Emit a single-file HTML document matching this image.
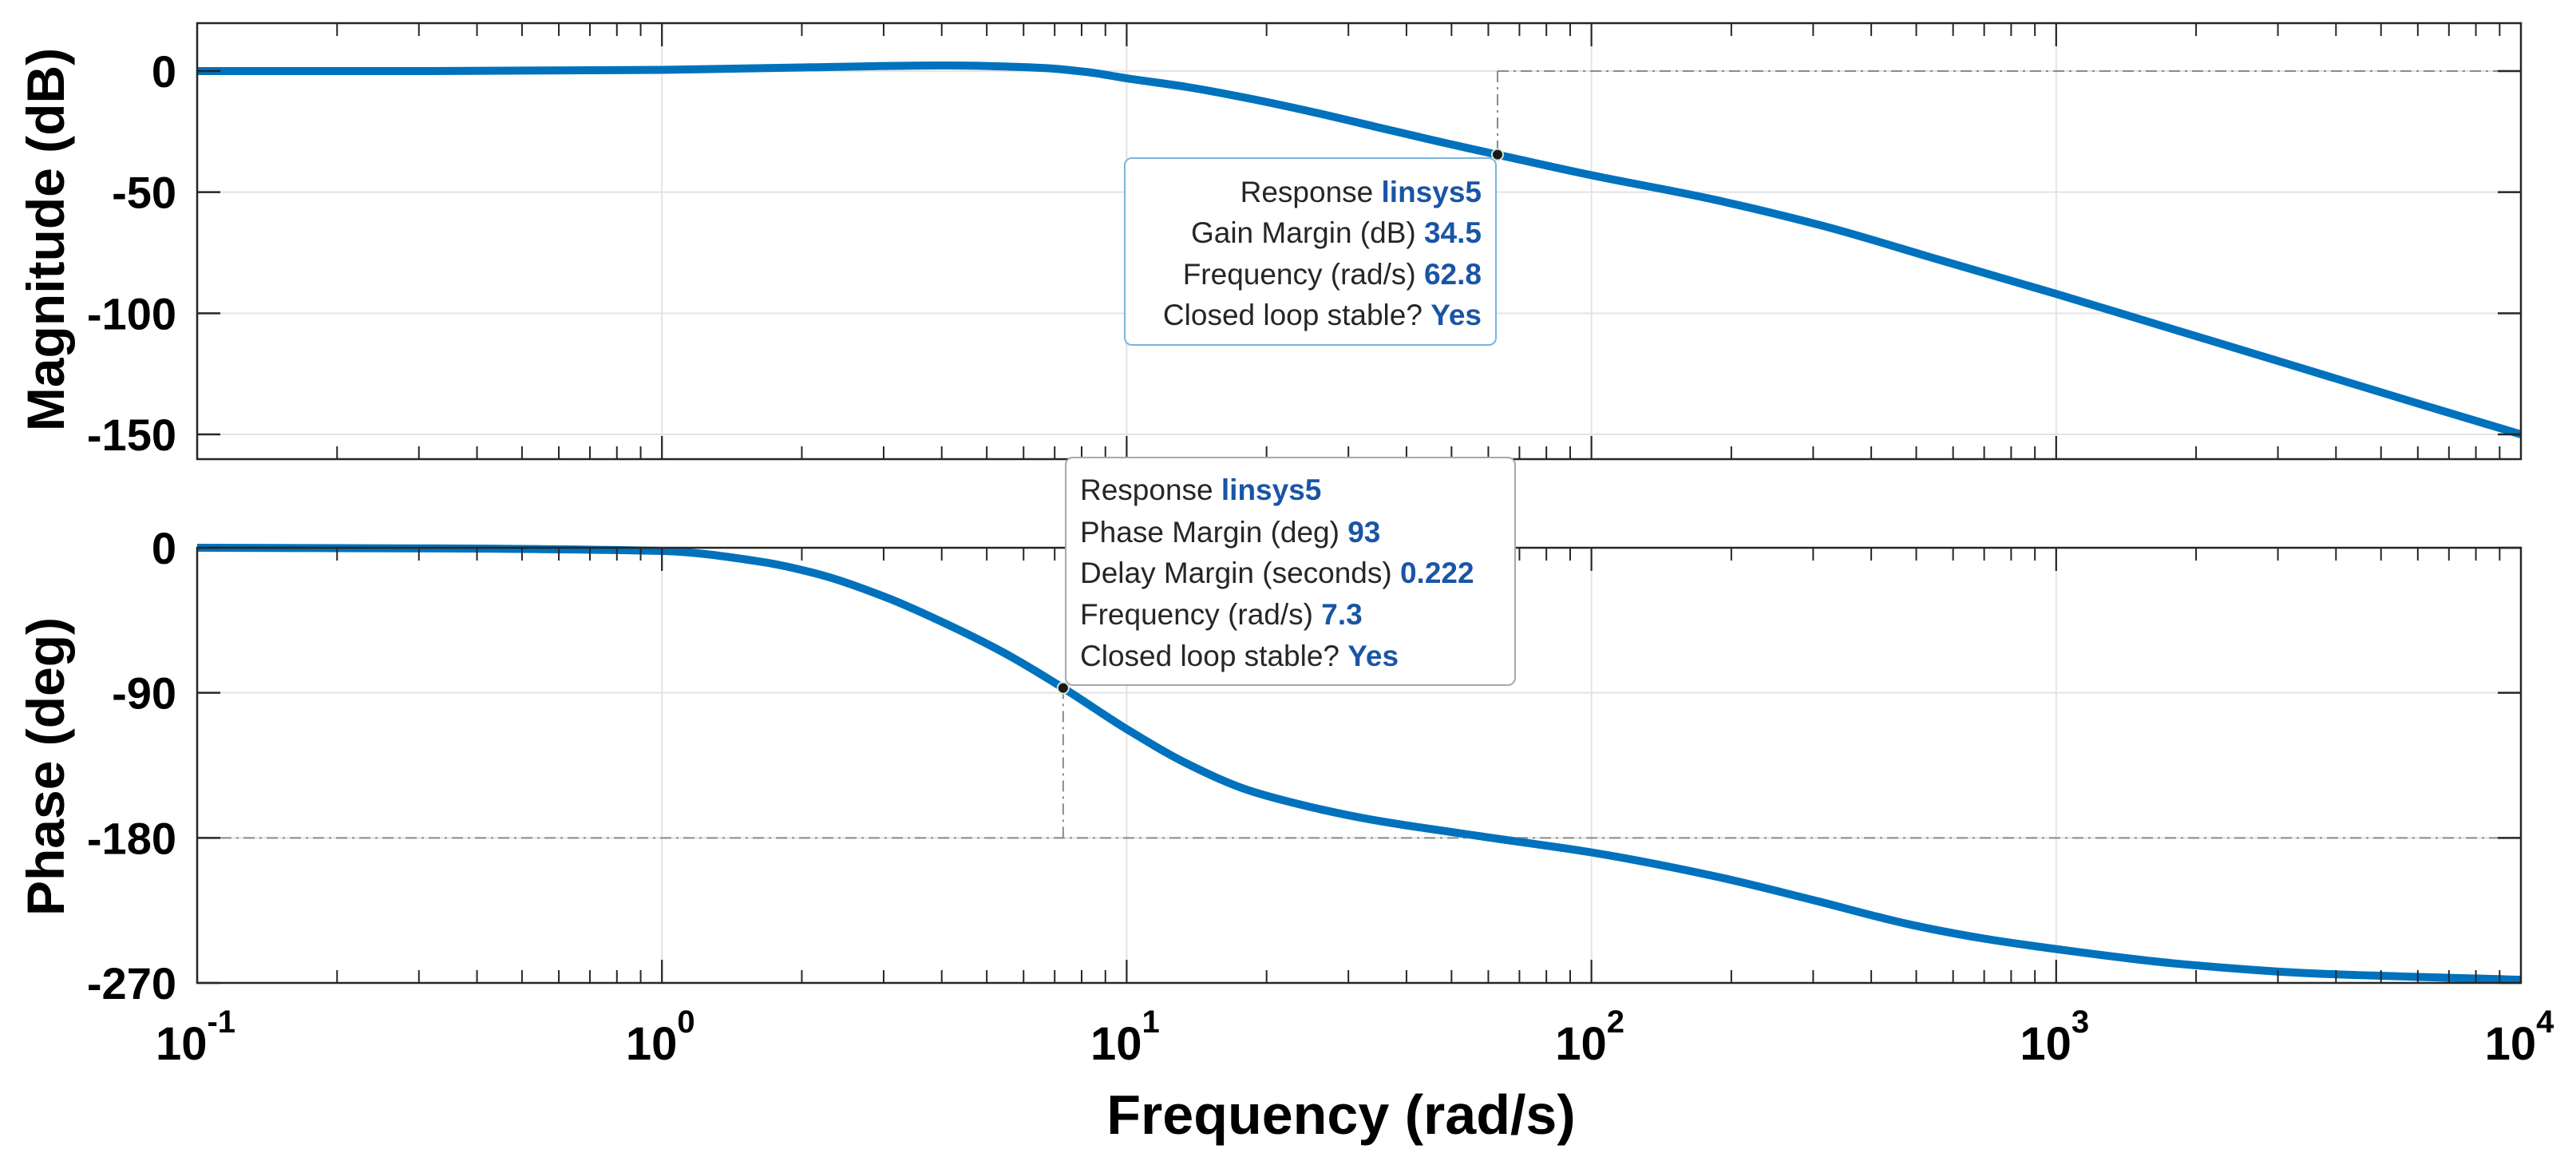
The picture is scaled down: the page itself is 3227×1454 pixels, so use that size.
<!DOCTYPE html>
<html><head><meta charset="utf-8"><style>
html,body{margin:0;padding:0;background:#fff;}
svg{display:block;font-family:"Liberation Sans",Arial,sans-serif;}
</style></head><body>
<svg id="chart" width="3227" height="1454" viewBox="0 0 3227 1454" xmlns="http://www.w3.org/2000/svg">
<rect x="0" y="0" width="3227" height="1454" fill="#fff"/>
<g id="grid"></g>
<g id="margins"></g>
<g id="curves"></g>
<g id="axes"></g>
<g id="labels"></g>
<g id="tips"></g>
</svg>
<script>
// ---- data ----
const magFreq = [0.1, 0.316, 1, 2, 4.06, 6.6, 8.3, 10, 13.5, 18, 25, 34, 46, 62.8, 100, 178, 316, 562, 1000, 1780, 3160, 5600, 10000];
const magDb   = [0, 0, 0.5, 1.5, 2.3, 1.3, -0.5, -3, -6.6, -11, -16.8, -22.8, -28.7, -34.5, -43, -52.5, -64, -78, -92, -106.5, -121, -135.5, -150];
const phaseFreq = [0.1, 0.316, 1, 1.63, 2.21, 2.99, 4.04, 5.47, 7.3, 10, 13.5, 18.3, 25, 33.5, 61, 100, 183, 299, 489, 700, 1000, 1814, 3500, 10000];
const phaseDeg  = [0, -0.4, -2, -8.6, -17, -30, -46.5, -65.5, -87, -112.5, -134, -150.5, -161, -168.6, -180, -189, -203.6, -218.5, -234, -242.5, -249, -258, -264, -268];
const magTicks = [0, -50, -100, -150];
const phaseTicks = [0, -90, -180, -270];
const decades = [-1, 0, 1, 2, 3, 4];
const gainMargin = {freq: 62.8, db: -34.5};
const phaseMargin = {freq: 7.3, deg: -87};

// ---- layout ----
const X0 = 247, X1 = 3158;
const TOP = {y0: 29, y1: 575};
const BOT = {y0: 686, y1: 1231};
function xs(f){ return X0 + (Math.log10(f) + 1) / 5 * (X1 - X0); }
function ymag(v){ return 89 + (0 - v) * (544 - 89) / 150; }
function yph(v){ return 686 + (0 - v) * (1231 - 686) / 270; }
const NS = 'http://www.w3.org/2000/svg';
function mk(parent, tag, attrs){ const e = document.createElementNS(NS, tag); for (const k in attrs) e.setAttribute(k, attrs[k]); parent.appendChild(e); return e; }
const grid = document.getElementById('grid'), axes = document.getElementById('axes'), labels = document.getElementById('labels');
const curves = document.getElementById('curves'), margins = document.getElementById('margins'), tips = document.getElementById('tips');

function monoPath(pts){
  const n = pts.length, dx = [], m = [], t = [];
  for (let i = 0; i < n - 1; i++){ dx[i] = pts[i+1][0] - pts[i][0]; m[i] = (pts[i+1][1] - pts[i][1]) / dx[i]; }
  t[0] = m[0]; t[n-1] = m[n-2];
  for (let i = 1; i < n - 1; i++){
    if (m[i-1] * m[i] <= 0) t[i] = 0;
    else { const w1 = 2*dx[i] + dx[i-1], w2 = dx[i] + 2*dx[i-1]; t[i] = (w1 + w2) / (w1 / m[i-1] + w2 / m[i]); }
  }
  let d = 'M' + pts[0][0].toFixed(1) + ',' + pts[0][1].toFixed(1);
  for (let i = 0; i < n - 1; i++){
    const h = dx[i] / 3;
    d += ' C' + (pts[i][0] + h).toFixed(1) + ',' + (pts[i][1] + t[i]*h).toFixed(1) + ' ' + (pts[i+1][0] - h).toFixed(1) + ',' + (pts[i+1][1] - t[i+1]*h).toFixed(1) + ' ' + pts[i+1][0].toFixed(1) + ',' + pts[i+1][1].toFixed(1);
  }
  return d;
}

function panel(P, ticks, yfn, name){
  decades.forEach(function(d){
    const x = xs(Math.pow(10, d));
    const g = mk(grid, 'line', {x1: x, x2: x, y1: P.y0, y2: P.y1, stroke: '#e3e3e3', 'stroke-width': 2});
    
    
  });
  ticks.forEach(function(t){
    const y = yfn(t);
    const g = mk(grid, 'line', {x1: X0, x2: X1, y1: y, y2: y, stroke: '#e3e3e3', 'stroke-width': 2});
    
    
    const tl = mk(axes, 'line', {x1: X0, x2: X0 + 29, y1: y, y2: y, stroke: '#262626', 'stroke-width': 2.5});
    
    
    const tr = mk(axes, 'line', {x1: X1 - 29, x2: X1, y1: y, y2: y, stroke: '#262626', 'stroke-width': 2.5});
    
    
    const lb = mk(labels, 'text', {x: 221, y: y + 20, 'text-anchor': 'end', 'font-size': 56, 'font-weight': 'bold', fill: '#000'});
    lb.textContent = String(t);
    
    
  });
  for (let d = -1; d < 4; d++){
    for (let m = 1; m <= 10; m++){
      const f = m * Math.pow(10, d);
      const x = xs(f);
      const len = (m === 1 || m === 10) ? 29 : 16;
      [[P.y0, P.y0 + len], [P.y1, P.y1 - len]].forEach(function(s){
        const t = mk(axes, 'line', {x1: x, x2: x, y1: s[0], y2: s[1], stroke: '#262626', 'stroke-width': 2});
        
        
      });
    }
  }
  const box = mk(axes, 'rect', {x: X0, y: P.y0, width: X1 - X0, height: P.y1 - P.y0, fill: 'none', stroke: '#262626', 'stroke-width': 2.5});
  
  
}
panel(TOP, magTicks, ymag, 'magnitude');
panel(BOT, phaseTicks, yph, 'phase');

const dash = {stroke: '#8a8a8a', 'stroke-width': 2, 'stroke-dasharray': '14,6,3,6', fill: 'none'};
function dline(x1, y1, x2, y2, nm){ const l = mk(margins, 'line', Object.assign({x1: x1, y1: y1, x2: x2, y2: y2}, dash));   }
dline(xs(gainMargin.freq), ymag(0), X1, ymag(0), 'gain-margin-zero-line');
dline(xs(gainMargin.freq), ymag(0), xs(gainMargin.freq), ymag(gainMargin.db), 'gain-margin-drop-line');
dline(X0, yph(-180), X1, yph(-180), 'phase-minus180-line');
dline(xs(phaseMargin.freq), yph(-180), xs(phaseMargin.freq), yph(phaseMargin.deg), 'phase-margin-line');

const clipT = mk(curves, 'clipPath', {id: 'ct'}); mk(clipT, 'rect', {x: X0, y: TOP.y0, width: X1 - X0, height: TOP.y1 - TOP.y0});
const clipB = mk(curves, 'clipPath', {id: 'cb'}); mk(clipB, 'rect', {x: X0, y: BOT.y0 - 6, width: X1 - X0, height: BOT.y1 - BOT.y0 + 6});
const mp = mk(curves, 'path', {d: monoPath(magFreq.map(function(f, i){ return [xs(f), ymag(magDb[i])]; })), stroke: '#0072BD', 'stroke-width': 10, fill: 'none', 'clip-path': 'url(#ct)', 'stroke-linejoin': 'round'});


const pp = mk(curves, 'path', {d: monoPath(phaseFreq.map(function(f, i){ return [xs(f), yph(phaseDeg[i])]; })), stroke: '#0072BD', 'stroke-width': 10, fill: 'none', 'clip-path': 'url(#cb)', 'stroke-linejoin': 'round'});



decades.forEach(function(d){
  const x = xs(Math.pow(10, d));
  const t = mk(labels, 'text', {x: x - 2, y: 1327, 'text-anchor': 'middle', 'font-size': 58, 'font-weight': 'bold', fill: '#000'});
  const a = document.createElementNS(NS, 'tspan'); a.textContent = '10'; t.appendChild(a);
  const b = document.createElementNS(NS, 'tspan'); b.setAttribute('dy', -34); b.setAttribute('font-size', 40); b.textContent = String(d); t.appendChild(b);
  
  
});
</script>
<script>
(function(){
const NS = 'http://www.w3.org/2000/svg';
const L = document.getElementById('labels'), T = document.getElementById('tips');
function txt(parent, attrs, s, nm){ const e = document.createElementNS(NS, 'text'); for (const k in attrs) e.setAttribute(k, attrs[k]); e.textContent = s; parent.appendChild(e);   return e; }
txt(L, {x: 1680, y: 1420, 'text-anchor': 'middle', 'font-size': 70, 'font-weight': 'bold', fill: '#000'}, 'Frequency (rad/s)', 'x-axis-title');
txt(L, {x: 0, y: 0, transform: 'translate(80,300) rotate(-90)', 'text-anchor': 'middle', 'font-size': 66, 'font-weight': 'bold', fill: '#000'}, 'Magnitude (dB)', 'magnitude-y-axis-title');
txt(L, {x: 0, y: 0, transform: 'translate(80,960) rotate(-90)', 'text-anchor': 'middle', 'font-size': 66, 'font-weight': 'bold', fill: '#000'}, 'Phase (deg)', 'phase-y-axis-title');

function rect(a, nm){ const r = document.createElementNS(NS, 'rect'); for (const k in a) r.setAttribute(k, a[k]); T.appendChild(r);   return r; }
function line2(parent, x, y, anchor, label, val, nm){
  const t = document.createElementNS(NS, 'text');
  t.setAttribute('x', x); t.setAttribute('y', y); t.setAttribute('text-anchor', anchor); t.setAttribute('font-size', 37); t.setAttribute('fill', '#262626');
  const a = document.createElementNS(NS, 'tspan'); a.textContent = label + ' '; t.appendChild(a);
  const b = document.createElementNS(NS, 'tspan'); b.setAttribute('font-weight', 'bold'); b.setAttribute('fill', '#1a55a5'); b.textContent = val; t.appendChild(b);
  parent.appendChild(t);
  
  
}
rect({x: 1409, y: 198, width: 465, height: 234, rx: 9, fill: '#fff', stroke: '#7ab4da', 'stroke-width': 2}, 'gain-margin-datatip');
line2(T, 1856, 253, 'end', 'Response', 'linsys5', 'gain-tip-response');
line2(T, 1856, 304, 'end', 'Gain Margin (dB)', '34.5', 'gain-tip-margin');
line2(T, 1856, 356, 'end', 'Frequency (rad/s)', '62.8', 'gain-tip-frequency');
line2(T, 1856, 407, 'end', 'Closed loop stable?', 'Yes', 'gain-tip-stable');
rect({x: 1335, y: 573, width: 563, height: 285, rx: 9, fill: '#fff', stroke: '#a8a8a8', 'stroke-width': 2}, 'phase-margin-datatip');
line2(T, 1353, 626, 'start', 'Response', 'linsys5', 'phase-tip-response');
line2(T, 1353, 679, 'start', 'Phase Margin (deg)', '93', 'phase-tip-margin');
line2(T, 1353, 730, 'start', 'Delay Margin (seconds)', '0.222', 'phase-tip-delay');
line2(T, 1353, 782, 'start', 'Frequency (rad/s)', '7.3', 'phase-tip-frequency');
line2(T, 1353, 834, 'start', 'Closed loop stable?', 'Yes', 'phase-tip-stable');
function dot(cx, cy, nm){ const c = document.createElementNS(NS, 'circle'); c.setAttribute('cx', cx); c.setAttribute('cy', cy); c.setAttribute('r', 7); c.setAttribute('fill', '#1a1a1a'); c.setAttribute('stroke', '#d8e8d8'); c.setAttribute('stroke-width', 2); T.appendChild(c);   }
dot(xs(gainMargin.freq), ymag(gainMargin.db), 'gain-margin-marker');
dot(xs(phaseMargin.freq), yph(phaseMargin.deg), 'phase-margin-marker');
})();
</script>
</body></html>
